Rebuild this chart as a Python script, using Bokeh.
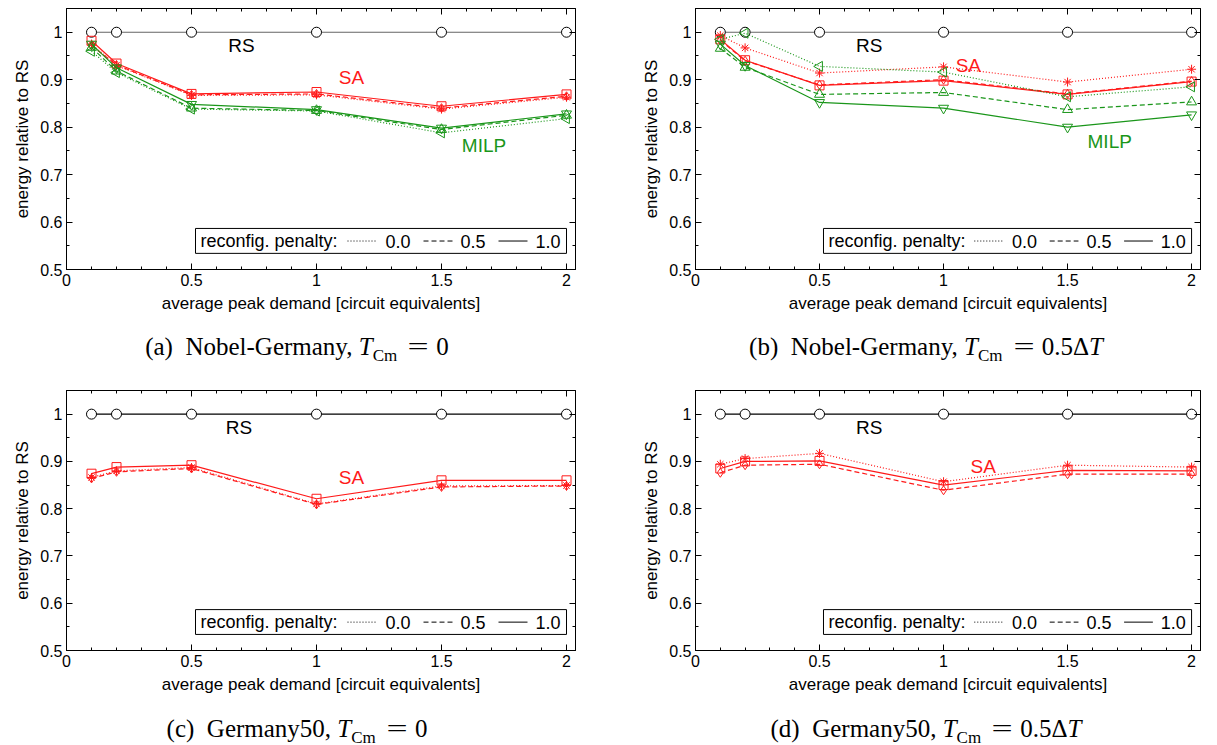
import math
from bokeh.plotting import figure
from bokeh.models import FixedTicker, LinearAxis, Div, Range1d
from bokeh.layouts import column, row
from bokeh.core.properties import value
from bokeh.embed import file_html
from bokeh.resources import INLINE

# ---------------- data ----------------
x_demand = [0.1, 0.2, 0.5, 1.0, 1.5, 2.0]
rs = [1.0, 1.0, 1.0, 1.0, 1.0, 1.0]

# (a) Nobel-Germany, T_Cm = 0
a_sa_00 = [0.975, 0.930, 0.867, 0.868, 0.838, 0.863]
a_sa_05 = [0.972, 0.931, 0.868, 0.870, 0.840, 0.865]
a_sa_10 = [0.982, 0.934, 0.870, 0.874, 0.844, 0.869]
a_milp_00 = [0.960, 0.915, 0.838, 0.834, 0.788, 0.818]
a_milp_05 = [0.968, 0.918, 0.840, 0.835, 0.795, 0.825]
a_milp_10 = [0.975, 0.925, 0.848, 0.837, 0.798, 0.828]

# (b) Nobel-Germany, T_Cm = 0.5 dT
b_sa_00 = [0.993, 0.967, 0.914, 0.927, 0.895, 0.922]
b_sa_05 = [0.983, 0.940, 0.889, 0.900, 0.870, 0.897]
b_sa_10 = [0.985, 0.941, 0.888, 0.898, 0.869, 0.896]
b_milp_00 = [0.985, 0.998, 0.928, 0.916, 0.864, 0.885]
b_milp_05 = [0.966, 0.926, 0.869, 0.873, 0.837, 0.853]
b_milp_10 = [0.975, 0.930, 0.852, 0.840, 0.800, 0.826]

# (c) Germany50, T_Cm = 0
c_sa_00 = [0.866, 0.880, 0.887, 0.810, 0.848, 0.849]
c_sa_05 = [0.864, 0.878, 0.885, 0.809, 0.846, 0.848]
c_sa_10 = [0.874, 0.888, 0.892, 0.821, 0.860, 0.860]

# (d) Germany50, T_Cm = 0.5 dT
d_sa_00 = [0.894, 0.906, 0.917, 0.857, 0.892, 0.888]
d_sa_05 = [0.876, 0.892, 0.894, 0.839, 0.873, 0.873]
d_sa_10 = [0.885, 0.900, 0.901, 0.850, 0.881, 0.880]

x_ticks = [0, 0.5, 1, 1.5, 2]
x_tick_labels = ["0", "0.5", "1", "1.5", "2"]
y_ticks = [0.5, 0.6, 0.7, 0.8, 0.9, 1.0]
y_tick_labels = ["0.5", "0.6", "0.7", "0.8", "0.9", "1"]
x_minor = [i / 10 for i in range(0, 21)]
y_minor = [0.5 + i * 0.05 for i in range(0, 11)]

legend_title = "reconfig. penalty:"
penalties = ["0.0", "0.5", "1.0"]
dashes = ["1 2", "5 3", "solid"]

EQ = '<span style="display:inline-block;transform:scaleX(1.5);margin:0 11px 0 14px">=</span>'
SUB = '<i>T</i><sub style="font-size:68%">Cm</sub>'
captions = [
    '(a)&nbsp; Nobel-Germany, ' + SUB + EQ + '0',
    '(b)&nbsp; Nobel-Germany, ' + SUB + EQ + '0.5&Delta;<i>T</i>',
    '(c)&nbsp; Germany50, ' + SUB + EQ + '0',
    '(d)&nbsp; Germany50, ' + SUB + EQ + '0.5&Delta;<i>T</i>',
]

RED = "#ff1a1a"
GREEN = "#1a961a"
SANS = "Liberation Sans"
SERIF = "Liberation Serif"


def style_axis(ax, labels):
    ax.axis_line_color = "black"
    ax.axis_line_width = 1
    ax.major_tick_in = 6
    ax.major_tick_out = 0
    ax.minor_tick_in = 3
    ax.minor_tick_out = 0
    ax.major_tick_line_color = "black"
    ax.minor_tick_line_color = "black"
    ax.major_label_text_font = SANS
    ax.major_label_text_font_size = "16px"
    ax.major_label_text_color = "black"
    ax.axis_label_text_font = SANS
    ax.axis_label_text_font_size = "17px"
    ax.axis_label_text_font_style = "normal"
    ax.axis_label_text_color = "black"
    ax.axis_label_standoff = 5
    ax.major_label_standoff = 4
    ax.major_label_overrides = labels


def make_fig(width, height, left, right, bottom, sa, milp, rs_color, label_pos):
    p = figure(width=width, height=height,
               x_range=Range1d(0, 2.036), y_range=Range1d(0.5, 1.05),
               output_backend="svg", toolbar_location=None,
               min_border_left=left, min_border_right=right,
               min_border_top=8, min_border_bottom=bottom,
               x_axis_label="average peak demand [circuit equivalents]",
               y_axis_label="energy relative to RS")
    p.outline_line_color = "black"
    p.outline_line_width = 1
    p.xgrid.visible = False
    p.ygrid.visible = False
    p.background_fill_color = "white"
    p.border_fill_color = "white"

    p.xaxis.ticker = FixedTicker(ticks=x_ticks, minor_ticks=x_minor)
    p.yaxis.ticker = FixedTicker(ticks=y_ticks, minor_ticks=y_minor)
    style_axis(p.xaxis[0], dict(zip(x_ticks, x_tick_labels)))
    style_axis(p.yaxis[0], dict(zip(y_ticks, y_tick_labels)))
    top_ax = LinearAxis(ticker=FixedTicker(ticks=x_ticks, minor_ticks=x_minor))
    right_ax = LinearAxis(ticker=FixedTicker(ticks=y_ticks, minor_ticks=y_minor))
    style_axis(top_ax, {t: "" for t in x_ticks})
    style_axis(right_ax, {t: "" for t in y_ticks})
    top_ax.major_label_standoff = 0
    right_ax.major_label_standoff = 0
    p.add_layout(top_ax, "above")
    p.add_layout(right_ax, "right")

    # RS baseline
    p.line(x_demand, rs, line_color=rs_color, line_width=1.2)
    p.scatter(x_demand, rs, marker="circle", size=10, line_color="black",
              fill_color="white", line_width=1)

    # SA series (asterisk / diamond / square)
    sa_markers = [("asterisk", 0.0), ("diamond", 0.0), ("square", 0.0)]
    for ys, dash, (mk, ang) in zip(sa, dashes, sa_markers):
        p.line(x_demand, ys, line_color=RED, line_dash=dash, line_width=1.2)
        p.scatter(x_demand, ys, marker=mk, angle=ang, size=9, line_color=RED,
                  fill_color=None, line_width=1)
    # MILP series (left / up / down triangle)
    milp_markers = [("triangle", math.pi / 2), ("triangle", 0.0), ("inverted_triangle", 0.0)]
    for ys, dash, (mk, ang) in zip(milp, dashes, milp_markers):
        if not ys:
            continue
        p.line(x_demand, ys, line_color=GREEN, line_dash=dash, line_width=1.2)
        p.scatter(x_demand, ys, marker=mk, angle=ang, size=10, line_color=GREEN,
                  fill_color=None, line_width=1)

    # text labels
    for (tx, ty, t, col) in label_pos:
        p.text(x=[tx], y=[ty], text=[t], text_color=col, text_font=value(SANS),
               text_font_size="19px", text_align="center", text_baseline="middle")

    # legend box (drawn after the data so it covers them)
    p.quad(left=[0.516], right=[2.0], bottom=[0.534], top=[0.5865],
           fill_color="white", line_color="black", line_width=1)
    ly = 0.560
    p.text(x=[0.536], y=[ly], text=[legend_title], text_color="black",
           text_font=value(SANS), text_font_size="18px",
           text_align="left", text_baseline="middle")
    seg_x0 = [1.124, 1.428, 1.728]
    seg_x1 = [1.244, 1.544, 1.844]
    lab_x = [1.276, 1.576, 1.876]
    for x0, x1, lx, pen, dash in zip(seg_x0, seg_x1, lab_x, penalties, dashes):
        p.segment(x0=[x0], y0=[ly], x1=[x1], y1=[ly], line_color="black",
                  line_dash=dash, line_width=1)
        p.text(x=[lx], y=[ly], text=[pen], text_color="black",
               text_font=value(SANS), text_font_size="18px",
               text_align="left", text_baseline="middle")
    return p


def caption(html, width, height, pad_left, pad_right, pad_top):
    return Div(text=html, width=width, height=height, margin=0,
               styles={"font-family": SERIF, "font-size": "25px", "color": "black",
                       "text-align": "center",
                       "padding-left": f"{pad_left}px", "padding-right": f"{pad_right}px",
                       "padding-top": f"{pad_top}px",
                       "white-space": "nowrap", "box-sizing": "border-box"})


WA, WB = 629, 588
pa = make_fig(WA, 319, 66, 54, 50, [a_sa_00, a_sa_05, a_sa_10],
              [a_milp_00, a_milp_05, a_milp_10], "#666666",
              [(0.70, 0.972, "RS", "black"), (1.14, 0.905, "SA", RED), (1.67, 0.762, "MILP", GREEN)])
pb = make_fig(WB, 319, 66, 17, 50, [b_sa_00, b_sa_05, b_sa_10],
              [b_milp_00, b_milp_05, b_milp_10], "#666666",
              [(0.70, 0.972, "RS", "black"), (1.10, 0.93, "SA", RED), (1.67, 0.77, "MILP", GREEN)])
pc = make_fig(WA, 318, 66, 54, 50, [c_sa_00, c_sa_05, c_sa_10], [[], [], []], "black",
              [(0.69, 0.972, "RS", "black"), (1.14, 0.867, "SA", RED)])
pd = make_fig(WB, 318, 66, 17, 50, [d_sa_00, d_sa_05, d_sa_10], [[], [], []], "black",
              [(0.70, 0.972, "RS", "black"), (1.16, 0.89, "SA", RED)])

cap_a = caption(captions[0], WA, 63, 0, 35, 10)
cap_b = caption(captions[1], WB, 63, 6, 0, 10)
cap_c = caption(captions[2], WA, 45, 0, 35, 11)
cap_d = caption(captions[3], WB, 45, 6, 0, 11)

layout = column(row(pa, pb), row(cap_a, cap_b), row(pc, pd), row(cap_c, cap_d))
open("out.html", "w").write(file_html(layout, INLINE))
